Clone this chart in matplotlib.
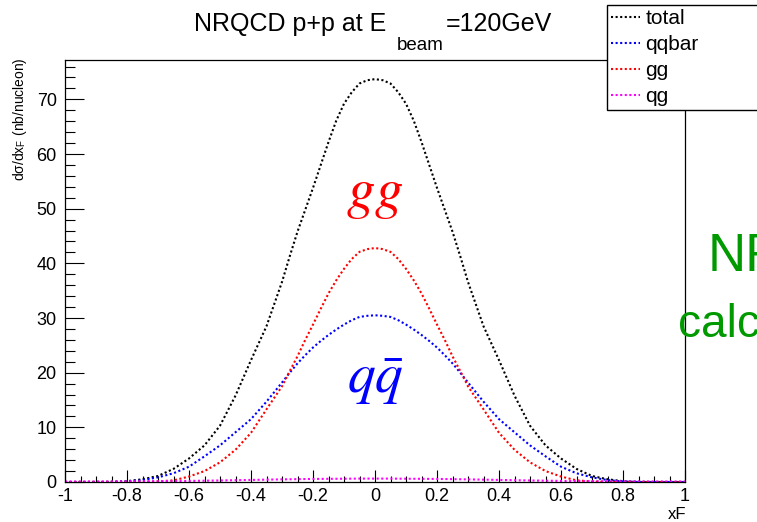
import matplotlib
matplotlib.use("Agg")
import matplotlib.pyplot as plt
from matplotlib.ticker import MultipleLocator, FixedLocator

# ---- data ----
xf = [-1.00, -0.95, -0.90, -0.85, -0.80, -0.75, -0.70, -0.65, -0.60, -0.55,
      -0.50, -0.45, -0.40, -0.35, -0.30, -0.275, -0.25, -0.225, -0.20, -0.175,
      -0.15, -0.125, -0.10, -0.075, -0.05, -0.025,
      0.00, 0.025, 0.05, 0.075, 0.10, 0.125, 0.15, 0.175, 0.20, 0.225,
      0.25, 0.275, 0.30, 0.35, 0.40, 0.45,
      0.50, 0.55, 0.60, 0.65, 0.70, 0.75, 0.80, 0.85, 0.90, 0.95, 1.00]
total = [0.0, 0.0, 0.0, 0.05, 0.15, 0.5, 1.1, 2.4, 4.3, 6.7,
         10.3, 15.8, 22.3, 28.5, 36.6, 41.3, 45.8, 49.8, 53.8, 58.0,
         62.2, 66.1, 69.2, 71.3, 72.9, 73.5,
         73.7, 73.5, 72.9, 71.3, 69.2, 66.1, 62.2, 58.0, 53.8, 49.8,
         45.8, 41.3, 36.6, 28.5, 22.3, 15.8,
         10.3, 6.7, 4.3, 2.4, 1.1, 0.5, 0.15, 0.05, 0.0, 0.0, 0.0]
qqbar = [0.0, 0.0, 0.0, 0.0, 0.1, 0.35, 0.85, 1.6, 2.8, 4.7,
         6.7, 9.1, 11.5, 14.7, 18.2, 20.0, 21.7, 23.2, 24.6, 25.8,
         26.9, 27.9, 28.8, 29.6, 30.2, 30.4,
         30.5, 30.4, 30.2, 29.6, 28.8, 27.9, 26.9, 25.8, 24.6, 23.2,
         21.7, 20.0, 18.2, 14.7, 11.5, 9.1,
         6.7, 4.7, 2.8, 1.6, 0.85, 0.35, 0.1, 0.0, 0.0, 0.0, 0.0]
gg = [0.0, 0.0, 0.0, 0.0, 0.0, 0.0, 0.1, 0.3, 1.0, 2.0,
      3.6, 5.9, 9.0, 13.3, 17.5, 20.3, 23.0, 26.0, 28.8, 31.7,
      34.5, 36.9, 39.0, 40.8, 42.1, 42.6,
      42.8, 42.6, 42.1, 40.8, 39.0, 36.9, 34.5, 31.7, 28.8, 26.0,
      23.0, 20.3, 17.5, 13.3, 9.0, 5.9,
      3.6, 2.0, 1.0, 0.3, 0.1, 0.0, 0.0, 0.0, 0.0, 0.0, 0.0]
qg = [0.1, 0.1, 0.1, 0.1, 0.12, 0.14, 0.16, 0.18, 0.2, 0.24,
      0.28, 0.33, 0.38, 0.43, 0.48, 0.5, 0.52, 0.54, 0.56, 0.57,
      0.58, 0.59, 0.6, 0.61, 0.62, 0.62,
      0.62, 0.62, 0.62, 0.61, 0.6, 0.59, 0.58, 0.57, 0.56, 0.54,
      0.52, 0.5, 0.48, 0.43, 0.38, 0.33,
      0.28, 0.24, 0.2, 0.18, 0.16, 0.14, 0.12, 0.1, 0.1, 0.1, 0.1]
series_names = ["total", "qqbar", "gg", "qg"]
xticks = [-1, -0.8, -0.6, -0.4, -0.2, 0, 0.2, 0.4, 0.6, 0.8, 1]
xtick_labels = ["-1", "-0.8", "-0.6", "-0.4", "-0.2", "0", "0.2", "0.4", "0.6", "0.8", "1"]
yticks = [0, 10, 20, 30, 40, 50, 60, 70]

plt.rcParams['font.family'] = ['Liberation Sans', 'DejaVu Sans']
plt.rcParams['axes.unicode_minus'] = False
plt.rcParams['mathtext.fontset'] = 'stix'

W, H = 757, 522
fig = plt.figure(figsize=(W / 100, H / 100), dpi=100)
fig.patch.set_facecolor('white')

def fx(px):
    return px / W

def fy(py):
    return 1 - py / H

ax = fig.add_axes([fx(65), fy(482), fx(685) - fx(65), fy(60) - fy(482)])

ls = (0, (1.0, 1.2))
colors = ["black", "#0000ff", "#ff0000", "#ff00ff"]
for vals, name, c in zip([total, qqbar, gg, qg], series_names, colors):
    ax.plot(xf, vals, color=c, lw=1.5, ls=ls, label=name, dash_capstyle='butt',
            clip_on=(name != "qg"))

ax.set_xlim(-1, 1)
ax.set_ylim(0, 77.2)
ax.xaxis.set_major_locator(FixedLocator(xticks))
ax.set_xticklabels(xtick_labels)
ax.xaxis.set_minor_locator(MultipleLocator(0.05))
ax.yaxis.set_major_locator(FixedLocator(yticks))
ax.yaxis.set_minor_locator(MultipleLocator(2))

ax.tick_params(axis='both', which='both', direction='in', top=False, right=False,
               width=0.8, color='black', labelsize=13, labelcolor='black')
ax.tick_params(axis='y', which='major', length=13.5, pad=6)
ax.tick_params(axis='y', which='minor', length=7.2)
ax.tick_params(axis='x', which='major', length=8.6, pad=4)
ax.tick_params(axis='x', which='minor', length=4.5)
for s in ax.spines.values():
    s.set_linewidth(0.9)
    s.set_color('black')

# axis titles
fig.text(fx(686), fy(519), "xF", ha='right', va='baseline', fontsize=12)
fig.text(fx(20), fy(57), "dσ/dx$_\\mathregular{F}$ (nb/nucleon)", rotation=90,
         ha='center', va='top', fontsize=10)

# title (ROOT style subscript)
fig.text(fx(386), fy(31), "NRQCD p+p at E", ha='right', va='baseline', fontsize=18)
fig.text(fx(397), fy(50), "beam", ha='left', va='baseline', fontsize=13.5)
fig.text(fx(446), fy(31), "=120GeV", ha='left', va='baseline', fontsize=18)

# in-plot labels
ax.text(0, 52.6, r"$gg$", color='#ff0000', fontsize=41, ha='center', va='center')
ax.text(0, 18.5, r"$q\bar{q}$", color='#0000ff', fontsize=40, ha='center', va='center')

# green annotation (cut off at the right edge, as in the reference)
fig.text(fx(708), fy(271), "NR", color='#009900', fontsize=38, ha='left', va='baseline')
fig.text(fx(678), fy(337), "calc", color='#009900', fontsize=33, ha='left', va='baseline')

# legend
leg = fig.legend(loc='upper left', bbox_to_anchor=(fx(607), 0, fx(800) - fx(607), fy(5)),
                 mode='expand', borderaxespad=0, fancybox=False, framealpha=1,
                 edgecolor='black', fontsize=15, handlelength=1.4, handletextpad=0.25,
                 labelspacing=0.33, borderpad=0.2)
leg.get_frame().set_linewidth(1.0)

fig.savefig("out.png", dpi=100, facecolor='white')
